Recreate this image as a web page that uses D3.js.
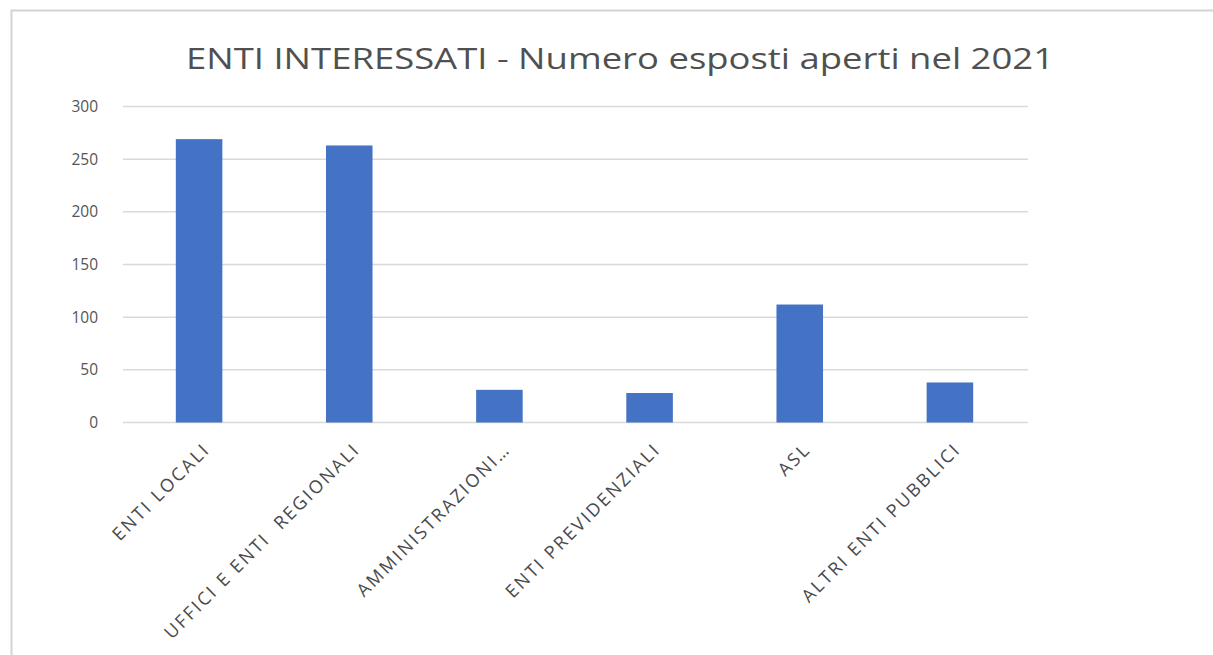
<!DOCTYPE html>
<html>
<head>
<meta charset="utf-8">
<script src="https://cdn.jsdelivr.net/npm/d3@7"></script>
<style>
  body { margin: 0; background: #fff; }
  svg { display: block; }
</style>
</head>
<body>
<div id="chart"></div>
<script>
var titleText = "ENTI INTERESSATI - Numero esposti aperti nel 2021";
var categories = ["ENTI LOCALI", "UFFICI E ENTI  REGIONALI", "AMMINISTRAZIONI\u2026",
                  "ENTI PREVIDENZIALI", "ASL", "ALTRI ENTI PUBBLICI"];
var values = [269, 263, 31, 28, 112, 38];
var yTicks = [0, 50, 100, 150, 200, 250, 300];

var W = 1213, H = 655;
var margin = {top: 106.5, left: 124, right: W - 1025, bottom: H - 422.5};
var width = W - margin.left - margin.right,
    height = H - margin.top - margin.bottom;

var svg = d3.select("#chart").append("svg")
    .attr("width", W).attr("height", H);

// light frame around the chart area
svg.append("path")
    .attr("d", "M11.5,655 L11.5,10.5 L1213,10.5")
    .attr("fill", "none").attr("stroke", "#d4d4d4").attr("stroke-width", 2);

svg.append("text")
    .attr("x", 620).attr("y", 69)
    .attr("text-anchor", "middle")
    .attr("font-family", "'Open Sans', sans-serif")
    .attr("font-size", 29)
    .attr("fill", "#505050")
    .attr("textLength", 868).attr("lengthAdjust", "spacingAndGlyphs")
    .text(titleText);

var g = svg.append("g")
    .attr("transform", "translate(" + margin.left + "," + margin.top + ")");

var x = d3.scaleBand().domain(categories).range([0, width]).paddingInner(0.69).paddingOuter(0.345);
var y = d3.scaleLinear().domain([0, 300]).range([height, 0]);

// gridlines
g.append("g")
  .selectAll("line").data(yTicks).join("line")
    .attr("x1", -1).attr("x2", width + 3)
    .attr("y1", function(d) { return y(d); })
    .attr("y2", function(d) { return y(d); })
    .attr("stroke", "#d9d9d9").attr("stroke-width", 1.5);

// y axis labels
var yAxis = g.append("g")
    .call(d3.axisLeft(y).tickValues(yTicks).tickSize(0).tickPadding(26));
yAxis.select(".domain").remove();
yAxis.selectAll("text")
    .attr("font-family", "'Open Sans', sans-serif")
    .attr("font-size", 15.5)
    .attr("fill", "#555555");

// bars
g.selectAll("rect.bar").data(values).join("rect")
    .attr("class", "bar")
    .attr("x", function(d, i) { return x(categories[i]); })
    .attr("width", x.bandwidth())
    .attr("y", function(d) { return y(d); })
    .attr("height", function(d) { return height - y(d); })
    .attr("fill", "#4472C4");

// x axis labels, rotated
var xAxis = g.append("g")
    .attr("transform", "translate(0," + height + ")")
    .call(d3.axisBottom(x).tickSize(0).tickPadding(0));
xAxis.select(".domain").remove();
xAxis.selectAll("text")
    .attr("font-family", "'Open Sans', sans-serif")
    .attr("font-size", 18)
    .attr("letter-spacing", 2.3)
    .attr("fill", "#4a4a4a")
    .style("white-space", "pre")
    .attr("text-anchor", "end")
    .attr("dy", null)
    .attr("y", 0)
    .attr("transform", "translate(12,28) rotate(-45)");
</script>
</body>
</html>
